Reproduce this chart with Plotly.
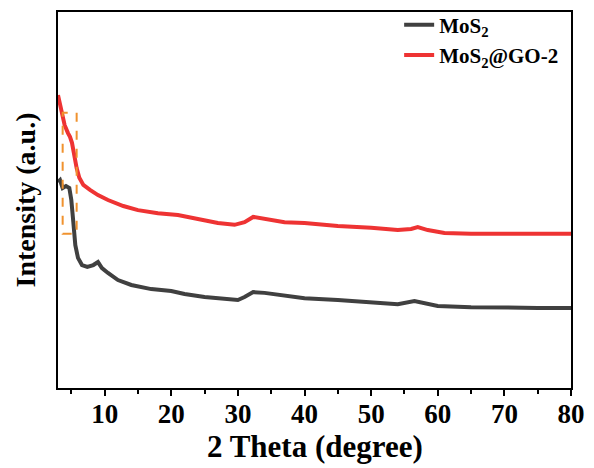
import plotly.graph_objects as go

# 2-theta positions (degree) and intensities (a.u.) for each sample
two_theta_mos2 = [3.0, 3.3, 3.7, 4.2, 4.7, 5.0, 5.3, 5.6, 6.0, 6.6, 7.4, 8.3, 9.0, 9.6,
                  10.5, 12, 14, 17, 20, 22, 25, 28, 30, 31, 32.3, 34, 37, 40, 45, 50,
                  54, 56.5, 58, 60, 65, 70, 75, 80]
intensity_mos2 = [548, 553, 532, 537, 532, 500, 441, 380, 346, 327, 322, 327, 335, 319,
                  306, 287, 274, 263, 258, 250, 242, 237, 234, 242, 255, 253, 245, 239, 234, 229,
                  223, 231, 226, 218, 215, 213, 213, 213]

two_theta_go = [3.0, 3.3, 3.6, 4.0, 4.5, 4.8, 5.1, 5.4, 5.8, 6.2, 6.8, 7.8, 9.0, 10.5,
                12.8, 15, 18, 21, 24, 27, 29.5, 31, 32.3, 34, 37, 40, 45, 50, 54, 56,
                57, 58.5, 61, 65, 70, 75, 80]
intensity_go = [779, 753, 731, 699, 678, 668, 652, 620, 585, 559, 540, 527, 513, 500,
                484, 473, 465, 460, 449, 439, 434, 441, 455, 449, 441, 439, 431, 426, 420, 423,
                428, 420, 412, 410, 410, 410, 410]

series_names = ["<b>MoS<sub>2</sub></b>", "<b>MoS<sub>2</sub>@GO-2</b>"]
series_colors = ["#404040", "#ee3333"]

x_ticks = [10, 20, 30, 40, 50, 60, 70, 80]
x_tick_labels = ["<b>%d</b>" % t for t in x_ticks]
x_minor_ticks = [5, 15, 25, 35, 45, 55, 65, 75]

# highlighted low-angle region
box_x = [3.7, 5.8]
box_y = [410, 732]

font_family = "Liberation Serif"

fig = go.Figure()
fig.add_trace(go.Scatter(x=two_theta_mos2, y=intensity_mos2, mode="lines",
                         name=series_names[0],
                         line=dict(color=series_colors[0], width=4)))
fig.add_trace(go.Scatter(x=two_theta_go, y=intensity_go, mode="lines",
                         name=series_names[1],
                         line=dict(color=series_colors[1], width=4)))

fig.add_shape(type="rect", xref="x", yref="y",
              x0=box_x[0], x1=box_x[1], y0=box_y[0], y1=box_y[1],
              line=dict(color="#f0922e", width=2, dash="dash"))

# x-axis title placed just under the tick labels
fig.add_annotation(text="<b>2 Theta (degree)</b>", xref="paper", yref="paper",
                   x=0.5, y=-0.155, xanchor="center", yanchor="middle",
                   showarrow=False,
                   font=dict(family=font_family, size=31, color="black"))

fig.update_layout(
    width=594, height=468,
    margin=dict(l=58, r=23, t=12, b=80, autoexpand=False),
    paper_bgcolor="white", plot_bgcolor="white",
    font=dict(family=font_family, color="black"),
    showlegend=True,
    legend=dict(x=0.665, y=1.02, xanchor="left", yanchor="top",
                bgcolor="rgba(0,0,0,0)", borderwidth=0,
                font=dict(family=font_family, size=21, color="black"),
                tracegroupgap=0, itemwidth=30),
    xaxis=dict(range=[3, 80], tickvals=x_ticks, ticktext=x_tick_labels, automargin=False,
               ticks="outside", ticklen=6, tickwidth=1.5, ticklabelstandoff=-5,
               tickcolor="black", showline=True, linecolor="black", linewidth=2, mirror=True,
               showgrid=False, zeroline=False,
               minor=dict(tickvals=x_minor_ticks, ticks="outside",
                          ticklen=4, tickwidth=1.5, tickcolor="black"),
               tickfont=dict(family=font_family, size=27, color="black", weight="bold")),
    yaxis=dict(range=[0, 1000], showticklabels=False, ticks="", showline=True,
               linecolor="black", linewidth=2, mirror=True, showgrid=False, zeroline=False,
               automargin=False,
               title=dict(text="<b>Intensity (a.u.)</b>", standoff=12,
                          font=dict(family=font_family, size=28, color="black"))),
)

fig.write_html("out.html")
